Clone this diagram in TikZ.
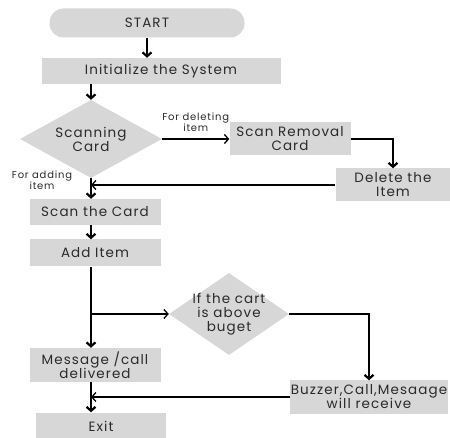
\documentclass[tikz,border=0pt]{standalone}
\usepackage{fontspec}
\setmainfont{Poppins}[LetterSpace=8]
\usepackage{xcolor}
\usetikzlibrary{shapes.geometric,arrows.meta}
\definecolor{boxgray}{HTML}{D7D7D7}
\definecolor{txt}{HTML}{2A2A2A}

\begin{document}
\begin{tikzpicture}[x=1pt,y=-1pt, >={Straight Barb[length=4pt,width=9pt]},
    box/.style={rectangle, fill=boxgray, text=txt, align=center, inner sep=0pt,
      font=\fontsize{13.5}{14}\selectfont},
    choice/.style={diamond, fill=boxgray, text=txt, align=center, inner sep=-9pt,
      font=\fontsize{13.5}{14}\selectfont},
    lbl/.style={align=center, text=txt, font=\fontsize{10}{11}\selectfont},
    arr/.style={->, line width=2.2pt},
    harr/.style={->, line width=1.3pt}]
  \useasboundingbox (0,0) rectangle (450,438);

  \node[box, rounded corners=14pt, minimum width=195pt, minimum height=29pt] (start) at (147,23) {START};
  \node[box, minimum width=239pt, minimum height=26pt] (init) at (161,71) {Initialize the System};
  \node[choice, minimum width=142pt, minimum height=78pt] (scan) at (91,139) {Scanning\\Card};
  \node[box, minimum width=121pt, minimum height=33pt] (removal) at (290,139) {Scan Removal\\Card};
  \node[box, minimum width=115pt, minimum height=33pt] (delete) at (393,185) {Delete the\\Item};
  \node[lbl] (addlbl) at (42,180) {For adding\\item};
  \node[box, minimum width=131pt, minimum height=26pt] (scancard) at (95,212) {Scan the Card};
  \node[box, minimum width=131pt, minimum height=27pt] (additem) at (95,253) {Add Item};
  \node[choice, minimum width=120pt, minimum height=82pt] (budget) at (229,314) {If the cart\\is above\\buget};
  \node[box, minimum width=131pt, minimum height=34pt] (msg) at (95,365) {Message /call\\delivered};
  \node[box, minimum width=158pt, minimum height=33pt] (buzzer) at (369,397) {Buzzer,Call,Mesaage\\will receive};
  \node[box, minimum width=130pt, minimum height=27pt] (exit) at (101,426) {Exit};

  \draw[arr] (start) -- (start |- init.north);
  \draw[arr] (init.south -| scan) -- (scan.north);
  \draw[harr] (scan.east) -- node[lbl, above=3pt] {For deleting\\item} (removal.west);
  \draw[arr] (removal.east) -| (delete.north);
  \draw[harr] (delete.west) -- (delete.west -| scan);
  \draw[arr] (scan.south) -- (scan.south |- scancard.north);
  \draw[arr] (scancard.south -| scan) -- (additem.north -| scan);
  \draw[arr] (additem.south -| scan) -- (msg.north -| scan);
  \draw[harr] (budget.west -| scan) -- (budget.west);
  \draw[arr] (budget.east) -| (buzzer.north);
  \draw[harr] (buzzer.west) -- (buzzer.west -| scan);
  \draw[arr] (msg.south -| scan) -- (exit.north -| scan);
\end{tikzpicture}
\end{document}
